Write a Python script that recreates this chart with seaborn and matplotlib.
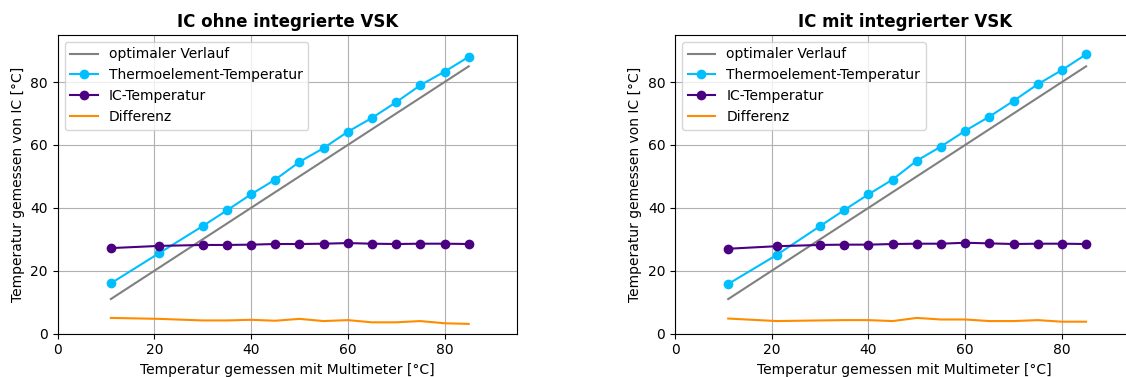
import matplotlib
matplotlib.use("Agg")
import matplotlib.pyplot as plt
import seaborn as sns

# Multimeter-Temperatur (x-Achse)
multimeter = [11, 21, 30, 35, 40, 45, 50, 55, 60, 65, 70, 75, 80, 85]

# IC ohne integrierte VSK
thermo_ohne = [16.0, 25.6, 34.2, 39.2, 44.3, 49.0, 54.6, 59.0, 64.2, 68.6, 73.6, 79.0, 83.3, 88.0]
ic_ohne = [27.2, 27.9, 28.2, 28.2, 28.3, 28.5, 28.5, 28.6, 28.8, 28.6, 28.5, 28.6, 28.6, 28.5]
diff_ohne = [5.0, 4.7, 4.2, 4.2, 4.4, 4.1, 4.7, 4.0, 4.3, 3.6, 3.6, 4.0, 3.3, 3.1]

# IC mit integrierter VSK
thermo_mit = [15.8, 25.0, 34.2, 39.3, 44.3, 49.0, 55.0, 59.5, 64.5, 69.0, 74.0, 79.3, 83.8, 88.8]
ic_mit = [27.0, 27.8, 28.2, 28.3, 28.3, 28.5, 28.6, 28.6, 28.9, 28.7, 28.5, 28.6, 28.6, 28.5]
diff_mit = [4.8, 4.0, 4.2, 4.3, 4.3, 4.0, 5.0, 4.5, 4.5, 4.0, 4.0, 4.3, 3.8, 3.8]

titles = ["IC ohne integrierte VSK", "IC mit integrierter VSK"]
panels = [(thermo_ohne, ic_ohne, diff_ohne), (thermo_mit, ic_mit, diff_mit)]


def plot_panel(ax, title, thermo, ic, diff):
    sns.lineplot(x=multimeter, y=multimeter, ax=ax, color="gray", label="optimaler Verlauf")
    sns.lineplot(x=multimeter, y=thermo, ax=ax, color="deepskyblue", marker="o",
                 markersize=7, markeredgewidth=0, label="Thermoelement-Temperatur")
    sns.lineplot(x=multimeter, y=ic, ax=ax, color="indigo", marker="o",
                 markersize=7, markeredgewidth=0, label="IC-Temperatur")
    sns.lineplot(x=multimeter, y=diff, ax=ax, color="darkorange", label="Differenz")

    ax.set_title(title, fontweight="bold")
    ax.set_xlabel("Temperatur gemessen mit Multimeter [°C]")
    ax.set_ylabel("Temperatur gemessen von IC [°C]")
    ax.set_xlim(0, 95)
    ax.set_ylim(0, 95)
    ax.set_xticks([0, 20, 40, 60, 80])
    ax.set_yticks([0, 20, 40, 60, 80])
    ax.grid(True, color="#b0b0b0", linewidth=0.8)
    ax.set_axisbelow(True)
    ax.legend(loc="upper left")


fig, axes = plt.subplots(1, 2, figsize=(11.26, 3.77), dpi=100)
for ax, title, (thermo, ic, diff) in zip(axes, titles, panels):
    plot_panel(ax, title, thermo, ic, diff)

# right panel is cut off at the image edge in the original
axes[0].set_position([0.0512, 0.115, 0.408, 0.7925])
axes[1].set_position([0.5995, 0.115, 0.408, 0.7925])
fig.savefig("out.png", dpi=100)
